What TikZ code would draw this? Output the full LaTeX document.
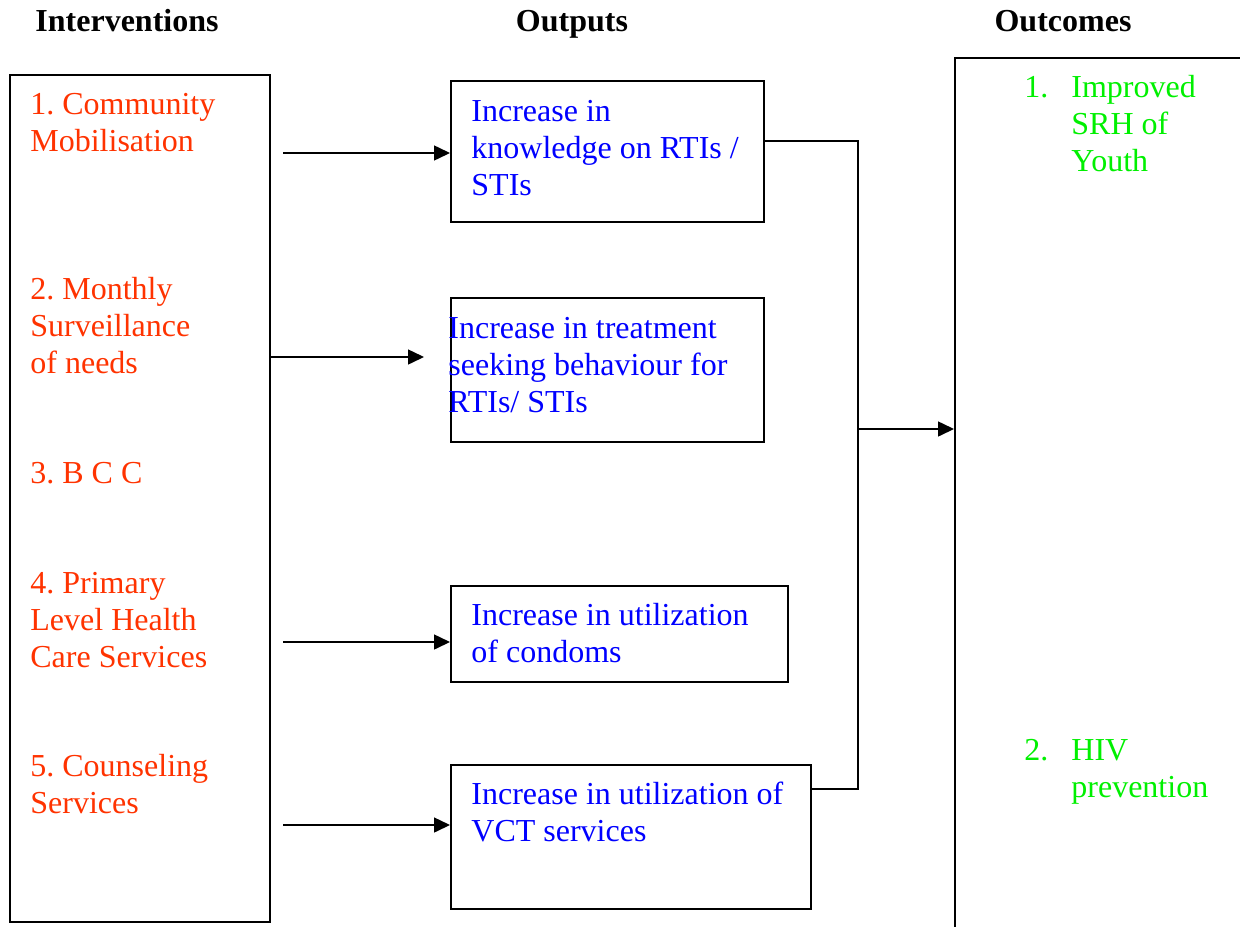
\documentclass[tikz,border=0pt]{standalone}
\usepackage{fontspec}
\setmainfont{Liberation Serif}
\usetikzlibrary{arrows.meta}

\definecolor{intred}{RGB}{255,51,0}
\definecolor{outblue}{RGB}{0,0,255}
\definecolor{ocgreen}{RGB}{0,240,0}

\frenchspacing
\tikzset{
	box/.style={draw, rectangle, line width=0.9pt, anchor=north west, inner sep=0pt},
	txt/.style={anchor=base west, align=left, inner sep=0pt, font=\fontsize{16}{18.5}\selectfont},
	head/.style={anchor=base, inner sep=0pt, font=\fontsize{16}{18.5}\selectfont\bfseries},
	link/.style={line width=0.75pt},
	arr/.style={line width=0.75pt, -{Triangle[length=8pt,width=7.5pt]}}
}

\begin{document}
\begin{tikzpicture}[x=0.5pt,y=-0.5pt]
	\clip (0,0) rectangle (1240,926);
	\fill[white] (0,0) rectangle (1240,926);

	\node[head] (hi) at (127,32) {Interventions};
	\node[head] (ho) at (572,32) {Outputs};
	\node[head] (hc) at (1063,32) {Outcomes};

	% interventions (text placed by the baseline of its last line)
	\node[box, minimum width=130pt, minimum height=423.5pt] (il) at (9,74) {};
	\node[txt, text=intred] (i1) at (30,151) {1. Community\\Mobilisation};
	\node[txt, text=intred] (i2) at (30,373) {2. Monthly\\Surveillance\\of needs};
	\node[txt, text=intred] (i3) at (30,483) {3. B C C};
	\node[txt, text=intred] (i4) at (30,667) {4. Primary\\Level Health\\Care Services};
	\node[txt, text=intred] (i5) at (30,813) {5. Counseling\\Services};

	% outputs
	\node[box, minimum width=156.5pt, minimum height=70.5pt] (o1) at (450,80) {};
	\node[box, minimum width=156.5pt, minimum height=72pt] (o2) at (450,297) {};
	\node[box, minimum width=168.5pt, minimum height=48pt] (o3) at (450,585) {};
	\node[box, minimum width=180pt, minimum height=72pt] (o4) at (450,764) {};
	\node[txt, text=outblue] (o1t) at (471,195) {Increase in\\knowledge on RTIs /\\STIs};
	\node[txt, text=outblue] (o2t) at (448,412) {Increase in treatment\\seeking behaviour for\\RTIs/ STIs};
	\node[txt, text=outblue] (o3t) at (471,662) {Increase in utilization\\of condoms};
	\node[txt, text=outblue] (o4t) at (471,841) {Increase in utilization of\\VCT services};

	% outcomes
	\node[box, minimum width=200pt, minimum height=500pt] (oc) at (954,57) {};
	\node[txt, text=ocgreen] (n1) at (1024,97) {1.};
	\node[txt, text=ocgreen] (c1) at (1071,171) {Improved\\SRH of\\Youth};
	\node[txt, text=ocgreen] (n2) at (1024,760) {2.};
	\node[txt, text=ocgreen] (c2) at (1071,797) {HIV\\prevention};

	\coordinate (a1) at (283,153);
	\coordinate (a2) at (269,357);
	\coordinate (e2) at (424,357);
	\coordinate (a3) at (283,642);
	\coordinate (a4) at (283,825);
	\coordinate (j1) at (858,141);
	\coordinate (j4) at (858,789);
	\coordinate (jm) at (858,429);

	\draw[arr] (a1) -- (o1.west |- a1);
	\draw[arr] (a2) -- (e2);
	\draw[arr] (a3) -- (o3.west |- a3);
	\draw[arr] (a4) -- (o4.west |- a4);

	\draw[link] (o1.east |- j1) -- (j1) -- (j4) -- (o4.east |- j4);
	\draw[arr] (jm) -- (oc.west |- jm);
\end{tikzpicture}
\end{document}
